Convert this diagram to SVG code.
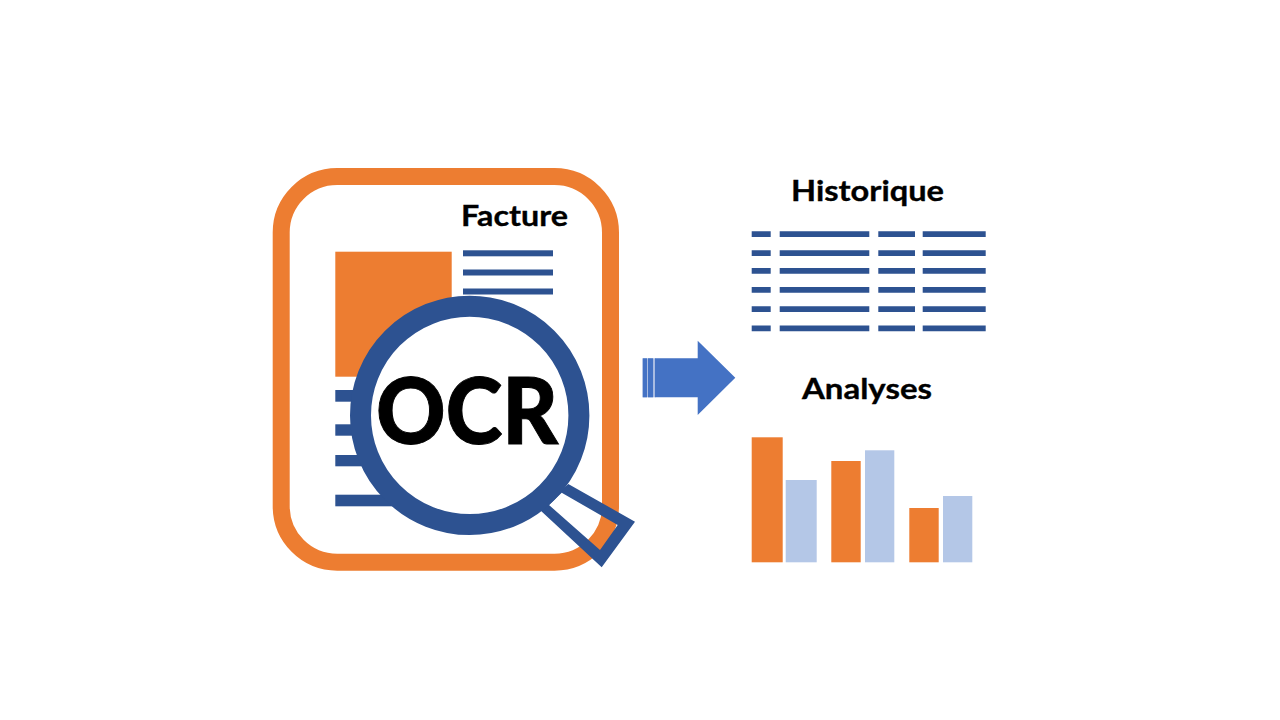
<svg xmlns="http://www.w3.org/2000/svg" width="1280" height="720" viewBox="0 0 1280 720">
<style>
.o{fill:#ED7D31}.b{fill:#2D5291}.l{fill:#B4C7E7}
text{font-family:Lato,"Open Sans","Liberation Sans",sans-serif;font-weight:700;fill:#000;stroke:#000;stroke-width:.35px}
.t{font-size:29px}
#ocr{font-weight:900;stroke-width:1px}
</style>
<rect width="1280" height="720" fill="#fff"/>
<g id="document">
<rect x="281.2" y="176.5" width="329.3" height="385.7" rx="56" fill="#fff" stroke="#ED7D31" stroke-width="17"/>
<text id="facture" class="t" x="461" y="226" textLength="107" lengthAdjust="spacingAndGlyphs">Facture</text>
<rect class="o" x="335.3" y="251.7" width="116.4" height="125"/>
<rect class="b" x="463" y="250.3" width="90" height="6"/>
<rect class="b" x="463" y="269.5" width="90" height="6"/>
<rect class="b" x="463" y="288.5" width="90" height="6"/>
<rect class="b" x="335.3" y="390" width="60" height="11.7"/>
<rect class="b" x="335.3" y="424.3" width="60" height="11.4"/>
<rect class="b" x="335.3" y="455" width="60" height="11.3"/>
<rect class="b" x="335.3" y="494.7" width="70" height="11.6"/>
</g>
<g id="magnifier">
<path class="b" fill-rule="evenodd" d="M568.3 484L635 521.7L601.7 567.3L540 510ZM561.7 492.7L549 505L600 550L617.7 525Z"/>
<circle cx="469.7" cy="415.4" r="109.2" fill="#fff" stroke="#2D5291" stroke-width="21"/>
<text id="ocr" x="376" y="444" font-size="92" textLength="182" lengthAdjust="spacingAndGlyphs">OCR</text>
</g>
<g id="connectors">
<g id="arrow" fill="#4472C4">
<rect x="642.7" y="358.3" width="13" height="39" fill="#A9BCE2"/>
<rect x="642.7" y="358.3" width="4.3" height="39"/>
<rect x="648" y="358.3" width="5" height="39"/>
<path d="M655 358.3H697.7V340.7L735.3 377.8L697.7 415V397.3H655Z"/>
</g>
</g>
<g id="historique">
<text class="t" x="791" y="201" textLength="153" lengthAdjust="spacingAndGlyphs">Historique</text>
<g class="b">
<path d="M751.7 231.3h19v5.8h-19zM779.7 231.3h89.6v5.8h-89.6zM878.3 231.3h36.7v5.8h-36.7zM922.7 231.3h63v5.8h-63z"/>
<path d="M751.7 250.3h19v5.8h-19zM779.7 250.3h89.6v5.8h-89.6zM878.3 250.3h36.7v5.8h-36.7zM922.7 250.3h63v5.8h-63z"/>
<path d="M751.7 268h19v5.8h-19zM779.7 268h89.6v5.8h-89.6zM878.3 268h36.7v5.8h-36.7zM922.7 268h63v5.8h-63z"/>
<path d="M751.7 287h19v5.8h-19zM779.7 287h89.6v5.8h-89.6zM878.3 287h36.7v5.8h-36.7zM922.7 287h63v5.8h-63z"/>
<path d="M751.7 306.3h19v5.8h-19zM779.7 306.3h89.6v5.8h-89.6zM878.3 306.3h36.7v5.8h-36.7zM922.7 306.3h63v5.8h-63z"/>
<path d="M751.7 325.4h19v5.8h-19zM779.7 325.4h89.6v5.8h-89.6zM878.3 325.4h36.7v5.8h-36.7zM922.7 325.4h63v5.8h-63z"/>
</g>
</g>
<g id="analyses">
<text class="t" x="802" y="399" textLength="130" lengthAdjust="spacingAndGlyphs">Analyses</text>
<rect class="o" x="751.7" y="437.3" width="31" height="125"/>
<rect class="l" x="785.7" y="480" width="31" height="82.3"/>
<rect class="o" x="831.3" y="461" width="29.4" height="101.3"/>
<rect class="l" x="865" y="450.3" width="29.3" height="112"/>
<rect class="o" x="909.3" y="508" width="29.4" height="54.3"/>
<rect class="l" x="943" y="496" width="29.3" height="66.3"/>
</g>
</svg>
